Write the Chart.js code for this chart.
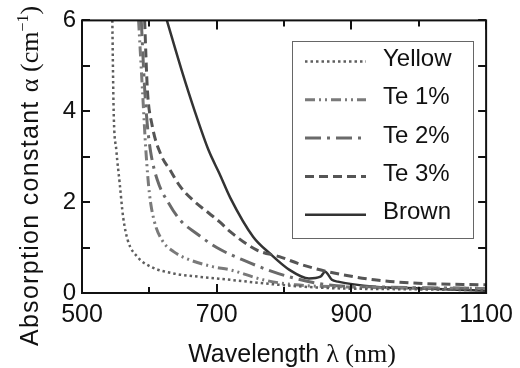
<!DOCTYPE html>
<html>
<head>
<meta charset="utf-8">
<script src="https://cdn.jsdelivr.net/npm/chart.js@4.4.0/dist/chart.umd.min.js"></script>
<style>
  html, body { margin: 0; padding: 0; background: #fff; }
  #wrap { width: 520px; height: 368px; }
</style>
</head>
<body>
<div id="wrap"><canvas id="chart" width="520" height="368"></canvas></div>
<script>
// wavelength (nm) / absorption constant (cm-1)
var yellowNm = [545, 547, 551, 556, 561, 568, 582, 602, 636, 672, 720, 793, 865, 1000, 1100];
var yellowAlpha = [6, 4, 3.14, 2.41, 1.68, 1.16, 0.8, 0.58, 0.43, 0.36, 0.29, 0.18, 0.11, 0.08, 0.06];

var te1Nm = [584, 590, 595, 600, 607, 619, 636, 660, 694, 720, 769, 817, 900, 1000, 1100];
var te1Alpha = [6, 4.4, 3.1, 2.2, 1.6, 1.16, 0.91, 0.73, 0.58, 0.51, 0.29, 0.18, 0.13, 0.11, 0.1];

var te2Nm = [588, 593, 597, 602, 612, 629, 646, 670, 700, 745, 783, 817, 865, 950, 1100];
var te2Alpha = [6, 4.5, 3.7, 3.1, 2.48, 1.97, 1.6, 1.31, 1.0, 0.69, 0.47, 0.32, 0.18, 0.13, 0.1];

var te3Nm = [593, 597, 604, 617, 631, 646, 665, 689, 704, 720, 759, 793, 827, 865, 934, 1007, 1100];
var te3Alpha = [6, 4.5, 3.7, 3.05, 2.7, 2.34, 2.04, 1.75, 1.57, 1.35, 0.95, 0.8, 0.62, 0.47, 0.29, 0.21, 0.18];

var brownNm = [626, 648, 667, 688, 704, 720, 754, 779, 808, 837, 854, 861, 871, 880, 934, 1006, 1100];
var brownAlpha = [6, 4.9, 4.02, 3.14, 2.63, 2.1, 1.24, 0.87, 0.51, 0.32, 0.36, 0.47, 0.29, 0.25, 0.14, 0.10, 0.05];

var seriesLabels = ['Yellow', 'Te 1%', 'Te 2%', 'Te 3%', 'Brown'];
var xTickLabels = [500, 700, 900, 1100];
var yTickLabels = [0, 2, 4, 6];

var SANS = "'Liberation Sans', Arial, sans-serif";
var SERIF = "'Liberation Serif', 'Times New Roman', serif";

function pairUp(xs, ys) {
  return xs.map(function (x, i) { return { x: x, y: ys[i] }; });
}

function makeSet(label, xs, ys, color, dash, width) {
  return {
    label: label,
    data: pairUp(xs, ys),
    borderColor: color,
    backgroundColor: color,
    borderWidth: width,
    borderDash: dash,
    pointRadius: 0,
    cubicInterpolationMode: 'monotone',
    fill: false
  };
}

// frame, inward ticks, axis titles and the boxed legend
var decor = {
  id: 'decor',
  afterDatasetsDraw: function (chart) {
    var ctx = chart.ctx, a = chart.chartArea;
    var xs = chart.scales.x, ys = chart.scales.y;
    ctx.save();
    ctx.strokeStyle = '#111';
    ctx.lineWidth = 2;
    ctx.strokeRect(a.left, a.top, a.right - a.left, a.bottom - a.top);
    ctx.beginPath();
    xs.ticks.forEach(function (t) {
      var px = Math.round(xs.getPixelForValue(t.value));
      var len = xTickLabels.indexOf(t.value) >= 0 ? 9 : 6;
      ctx.moveTo(px, a.bottom); ctx.lineTo(px, a.bottom - len);
      ctx.moveTo(px, a.top); ctx.lineTo(px, a.top + len);
    });
    ys.ticks.forEach(function (t) {
      var py = Math.round(ys.getPixelForValue(t.value));
      ctx.moveTo(a.left, py); ctx.lineTo(a.left + 8, py);
      ctx.moveTo(a.right, py); ctx.lineTo(a.right - 8, py);
    });
    ctx.stroke();
    ctx.restore();
  },
  afterDraw: function (chart) {
    var ctx = chart.ctx;
    ctx.save();
    ctx.fillStyle = '#111';
    ctx.textBaseline = 'alphabetic';

    // x title
    var parts = [
      { t: 'Wavelength ', f: '25px ' + SANS, sp: '0px' },
      { t: '\u03bb ', f: '26px ' + SERIF, sp: '0px' },
      { t: '(nm)', f: '26px ' + SERIF, sp: '0px' }
    ];
    drawParts(ctx, parts, 292, 362);

    // y title, rotated
    ctx.save();
    ctx.translate(38, 176);
    ctx.rotate(-Math.PI / 2);
    var yparts = [
      { t: 'Absorption constant ', f: '25px ' + SANS, sp: '1.3px' },
      { t: '\u03b1 (cm', f: '26px ' + SERIF, sp: '0px' },
      { t: '\u22121', f: '16px ' + SERIF, sp: '0px', up: 10 },
      { t: ')', f: '26px ' + SERIF, sp: '0px' }
    ];
    drawParts(ctx, yparts, 0, 0);
    ctx.restore();

    // legend
    var lx = 292, ly = 41, lw = 181, lh = 197;
    ctx.fillStyle = '#fff';
    ctx.fillRect(lx, ly, lw, lh);
    ctx.strokeStyle = '#666';
    ctx.lineWidth = 1;
    ctx.strokeRect(lx + 0.5, ly + 0.5, lw, lh);
    chart.data.datasets.forEach(function (ds, i) {
      var rowY = 61.5 + i * 38.3;
      ctx.beginPath();
      ctx.setLineDash(ds.borderDash || []);
      ctx.strokeStyle = ds.borderColor;
      ctx.lineWidth = ds.borderWidth;
      ctx.moveTo(305, rowY);
      ctx.lineTo(366, rowY);
      ctx.stroke();
      ctx.setLineDash([]);
      ctx.fillStyle = '#111';
      ctx.font = '24px ' + SANS;
      ctx.textBaseline = 'middle';
      ctx.textAlign = 'left';
      ctx.fillText(ds.label, 383, rowY - 2);
    });
    ctx.restore();
  }
};

function drawParts(ctx, parts, cx, baseY) {
  var total = 0;
  parts.forEach(function (p) {
    ctx.font = p.f;
    ctx.letterSpacing = p.sp;
    p.w = ctx.measureText(p.t).width;
    total += p.w;
  });
  var x = cx - total / 2;
  parts.forEach(function (p) {
    ctx.font = p.f;
    ctx.letterSpacing = p.sp;
    ctx.textAlign = 'left';
    ctx.fillText(p.t, x, baseY - (p.up || 0));
    x += p.w;
  });
  ctx.letterSpacing = '0px';
}

var ctx = document.getElementById('chart').getContext('2d');
var chart = new Chart(ctx, {
  type: 'line',
  data: {
    datasets: [
      makeSet(seriesLabels[0], yellowNm, yellowAlpha, '#5e5e5e', [2.5, 3], 2.5),
      makeSet(seriesLabels[1], te1Nm, te1Alpha, '#7a7a7a', [10, 4, 2, 4, 2, 4], 3),
      makeSet(seriesLabels[2], te2Nm, te2Alpha, '#6a6a6a', [16, 6, 3, 6], 3),
      makeSet(seriesLabels[3], te3Nm, te3Alpha, '#555555', [9, 5], 3),
      makeSet(seriesLabels[4], brownNm, brownAlpha, '#333333', [], 2.5)
    ]
  },
  options: {
    responsive: false,
    animation: false,
    layout: { padding: { left: 0, top: 20, right: 26, bottom: 0 } },
    plugins: { legend: { display: false }, tooltip: { enabled: false } },
    scales: {
      x: {
        type: 'linear',
        min: 500, max: 1100,
        grid: { display: false, drawTicks: false },
        border: { display: false },
        afterFit: function (s) { s.height = 75; },
        ticks: {
          stepSize: 100, autoSkip: false, maxRotation: 0, padding: 7,
          color: '#111',
          font: { family: SANS, size: 25 },
          callback: function (v) { return xTickLabels.indexOf(v) >= 0 ? String(v) : ''; }
        }
      },
      y: {
        min: 0, max: 6,
        grid: { display: false, drawTicks: false },
        border: { display: false },
        afterFit: function (s) { s.width = 82; },
        ticks: {
          stepSize: 1, padding: 6,
          color: '#111',
          font: { family: SANS, size: 24 },
          callback: function (v) { return yTickLabels.indexOf(v) >= 0 ? String(v) : ''; }
        }
      }
    }
  },
  plugins: [decor]
});
</script>
</body>
</html>
